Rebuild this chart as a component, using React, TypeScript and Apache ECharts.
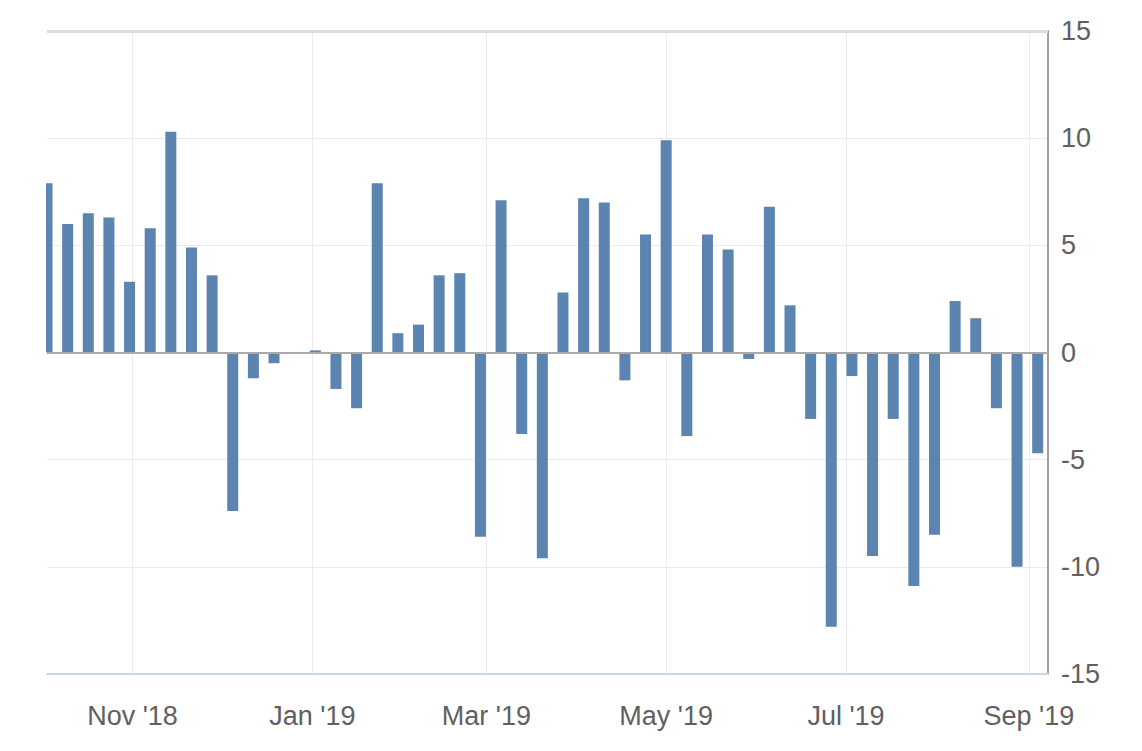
import React, { useEffect, useRef } from "react";
import * as echarts from "echarts";

const weekDates: string[] = [
  "2018-10-03", "2018-10-10", "2018-10-17", "2018-10-24", "2018-10-31",
  "2018-11-07", "2018-11-14", "2018-11-21", "2018-11-28",
  "2018-12-05", "2018-12-12", "2018-12-19", "2018-12-26",
  "2019-01-02", "2019-01-09", "2019-01-16", "2019-01-23", "2019-01-30",
  "2019-02-06", "2019-02-13", "2019-02-20", "2019-02-27",
  "2019-03-06", "2019-03-13", "2019-03-20", "2019-03-27",
  "2019-04-03", "2019-04-10", "2019-04-17", "2019-04-24",
  "2019-05-01", "2019-05-08", "2019-05-15", "2019-05-22", "2019-05-29",
  "2019-06-05", "2019-06-12", "2019-06-19", "2019-06-26",
  "2019-07-03", "2019-07-10", "2019-07-17", "2019-07-24", "2019-07-31",
  "2019-08-07", "2019-08-14", "2019-08-21", "2019-08-28",
  "2019-09-04",
];

const weeklyChange: (number | null)[] = [
  7.9, 6.0, 6.5, 6.3, 3.3,
  5.8, 10.3, 4.9, 3.6,
  -7.4, -1.2, -0.5, null,
  0.1, -1.7, -2.6, 7.9, 0.9,
  1.3, 3.6, 3.7, -8.6,
  7.1, -3.8, -9.6, 2.8,
  7.2, 7.0, -1.3, 5.5,
  9.9, -3.9, 5.5, 4.8, -0.3,
  6.8, 2.2, -3.1, -12.8,
  -1.1, -9.5, -3.1, -10.9, -8.5,
  2.4, 1.6, -2.6, -10.0,
  -4.7,
];

const monthTicks: string[] = [
  "2018-11-01", "2019-01-01", "2019-03-01", "2019-05-01", "2019-07-01", "2019-09-01",
];
const monthLabels: string[] = ["Nov '18", "Jan '19", "Mar '19", "May '19", "Jul '19", "Sep '19"];

const axisStart = "2018-10-03";
const axisEnd = "2019-09-07T12:00:00";

const yMin = -15;
const yMax = 15;
const yStep = 5;

const ts = (s: string) => new Date(s.length === 10 ? s + "T00:00:00" : s).getTime();

export default function App() {
  const ref = useRef<HTMLDivElement>(null);

  useEffect(() => {
    if (!ref.current) return;
    const chart = echarts.init(ref.current, null, { renderer: "svg" });
    const tickTs = monthTicks.map(ts);
    const font = "'Liberation Sans', Arial, sans-serif";

    chart.setOption({
      animation: false,
      grid: { left: 47, right: 94, top: 31, bottom: 77, outerBoundsMode: "none" },
      // white mask so the first bar is cut at the plot's left edge, as in the reference
      graphic: [
        {
          type: "rect",
          left: 0,
          top: 0,
          z: 100,
          silent: true,
          shape: { width: 46, height: 751 },
          style: { fill: "#ffffff" },
        },
      ],
      xAxis: {
        type: "value",
        min: ts(axisStart),
        max: ts(axisEnd),
        axisLine: { show: true, onZero: false, lineStyle: { color: "#ccd6eb", width: 2 } },
        axisTick: { show: false, customValues: tickTs },
        axisLabel: {
          customValues: tickTs,
          color: "#606060",
          fontSize: 27,
          fontFamily: font,
          margin: 28,
          formatter: (v: number) => {
            const i = tickTs.findIndex((t) => Math.abs(t - v) < 3600000);
            return i >= 0 ? monthLabels[i] : "";
          },
        },
        splitLine: { show: true, lineStyle: { color: "#ebebeb", width: 1 } },
      },
      yAxis: {
        type: "value",
        position: "right",
        min: yMin,
        max: yMax,
        interval: yStep,
        axisLine: { show: true, lineStyle: { color: "#a0a0a0", width: 2 } },
        axisTick: { show: false },
        axisLabel: { color: "#606060", fontSize: 27, fontFamily: font, margin: 13 },
        splitLine: { show: true, lineStyle: { color: "#ebebeb", width: 1 } },
      },
      series: [
        {
          type: "bar",
          barWidth: 11,
          clip: true,
          itemStyle: { color: "#5b84b1" },
          data: weekDates.map((d, i) => [ts(d), weeklyChange[i] === null ? "-" : weeklyChange[i]]),
          markLine: {
            silent: true,
            symbol: "none",
            label: { show: false },
            data: [
              { yAxis: 0, lineStyle: { color: "#aaaaaa", width: 2, type: "solid" } },
              { yAxis: yMax, lineStyle: { color: "#dddddd", width: 3, type: "solid" } },
            ],
          },
        },
      ],
    });
    return () => chart.dispose();
  }, []);

  return (
    <div
      ref={ref}
      style={{ position: "absolute", left: 0, top: 0, width: 1142, height: 751, background: "#fff" }}
    />
  );
}
